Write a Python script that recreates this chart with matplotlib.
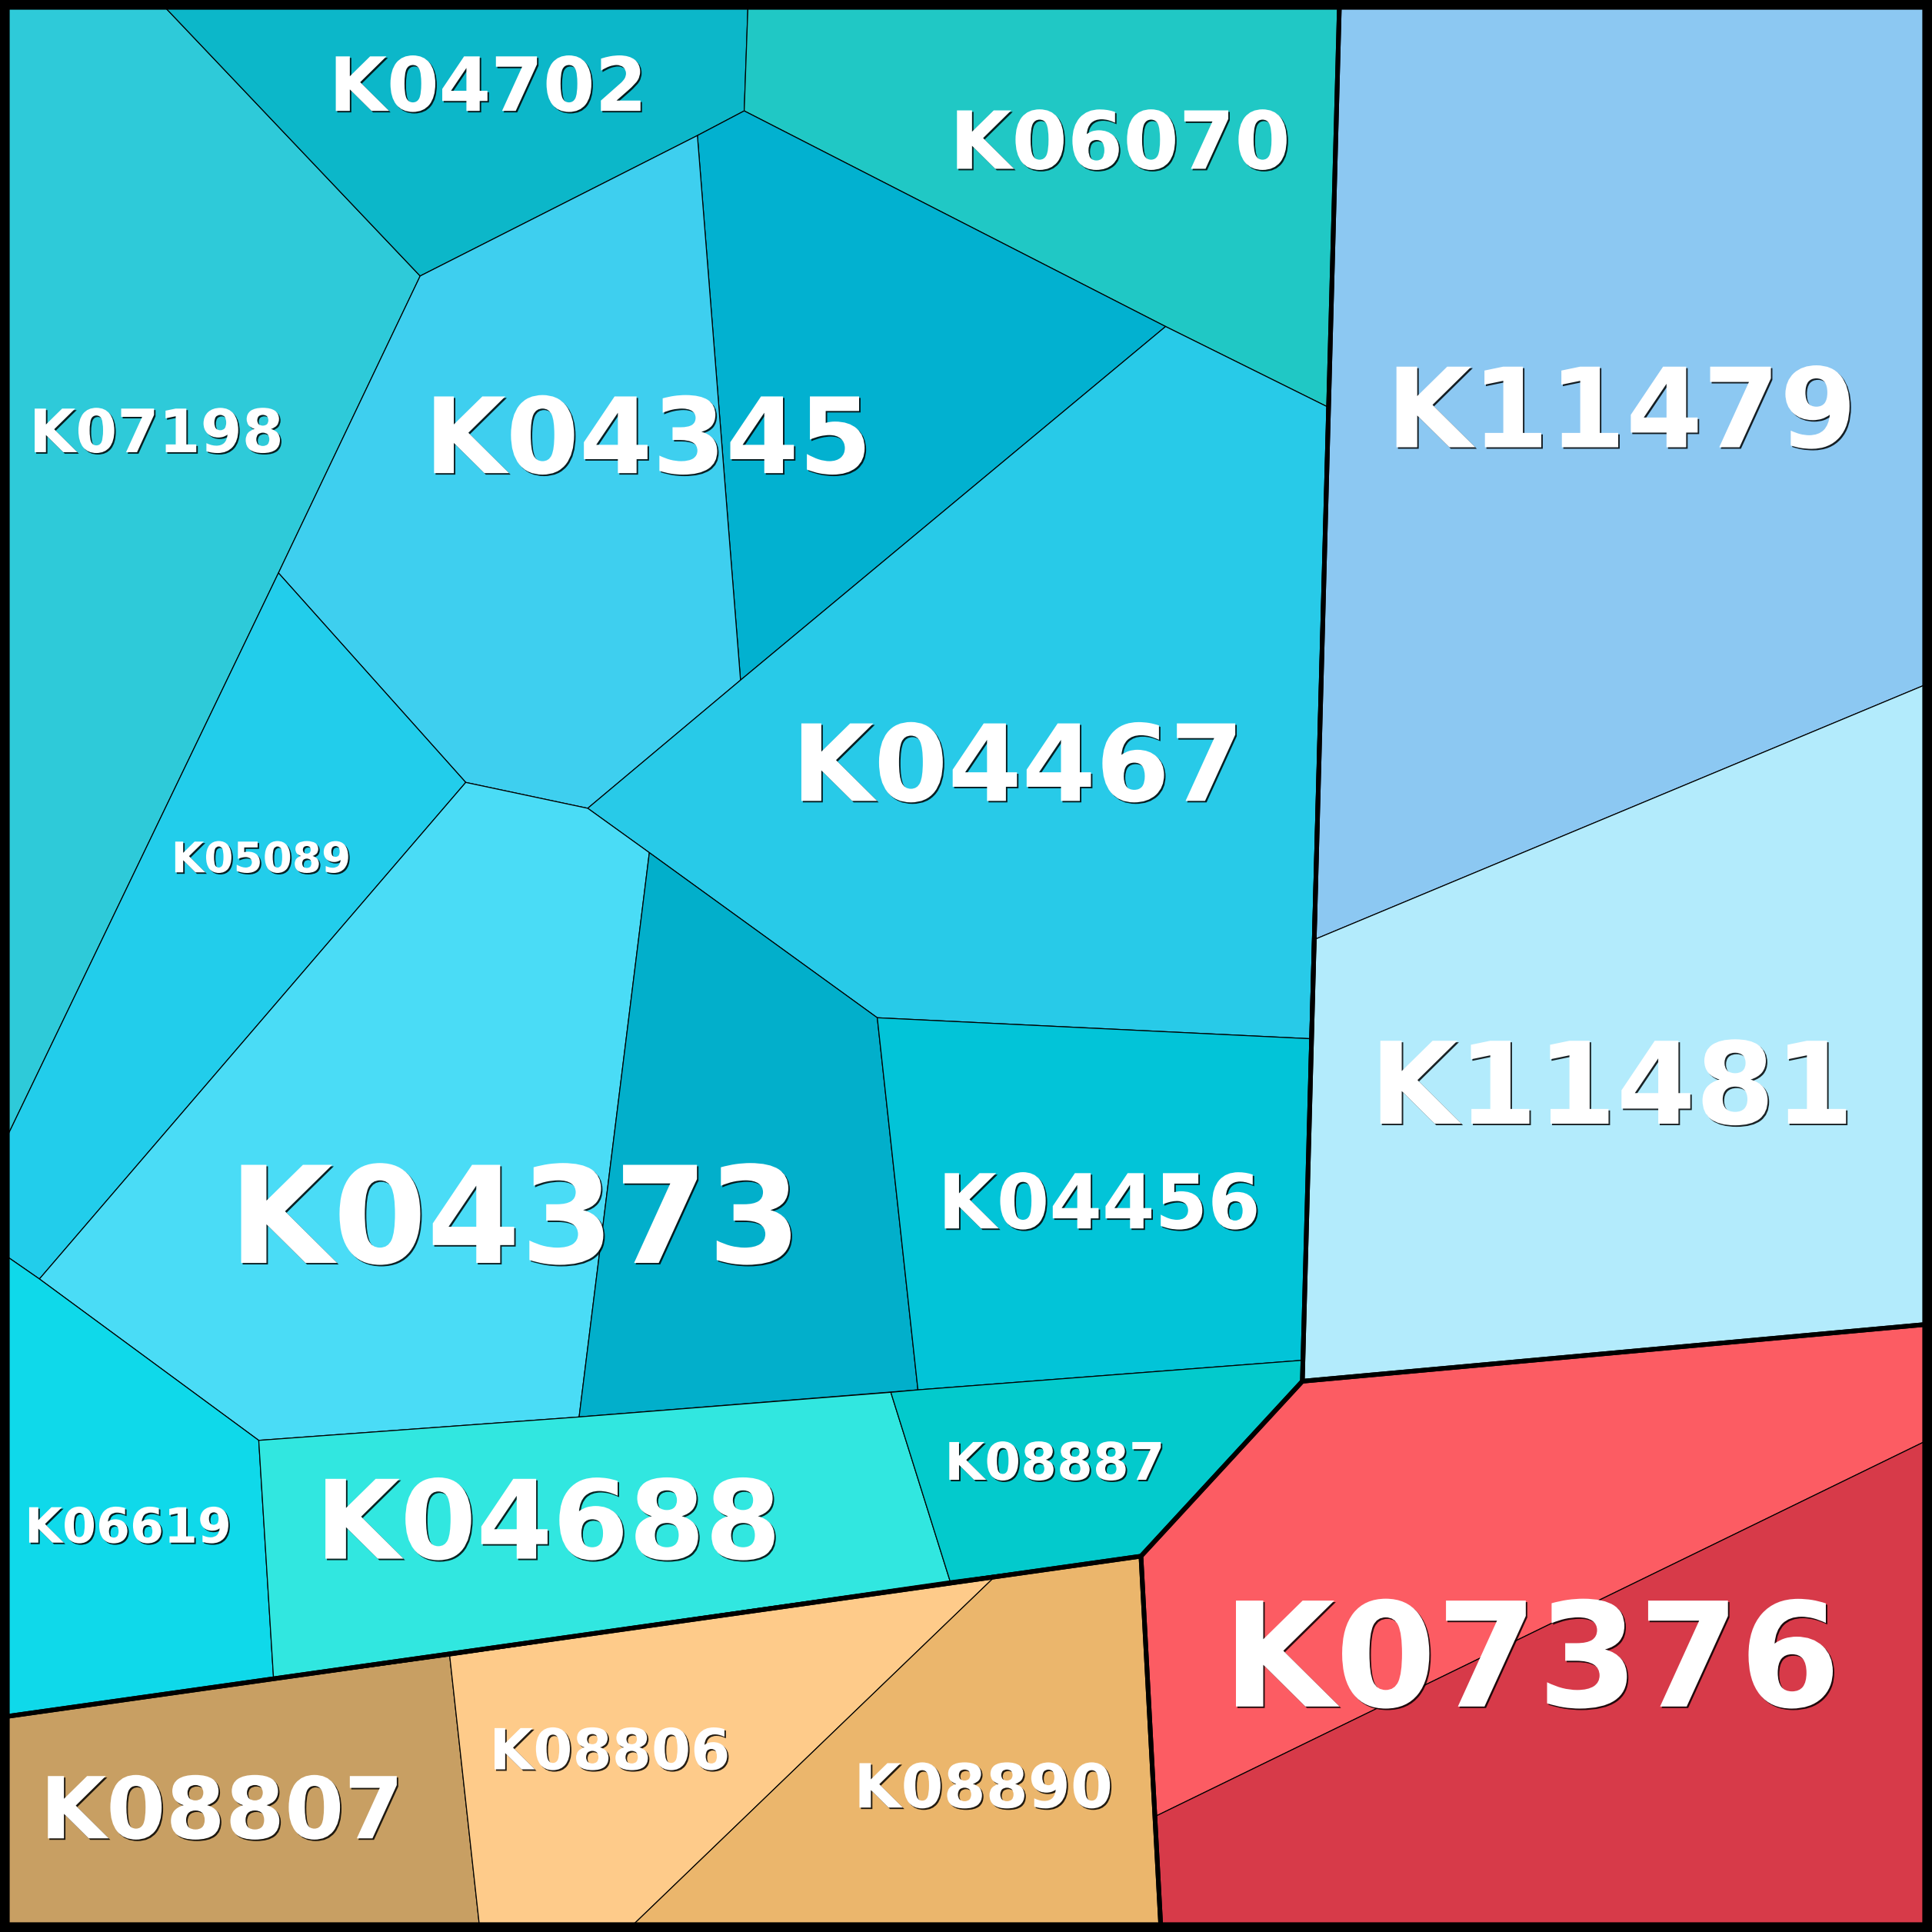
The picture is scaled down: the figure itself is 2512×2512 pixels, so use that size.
import matplotlib.pyplot as plt
import matplotlib.patheffects as pe
from matplotlib.patches import Polygon, Rectangle

# cell outlines (pixel space of a 1568 wide view, y down)
k07198 = [(6, 6), (134, 6), (341, 224), (226, 465), (6, 922)]
k04702 = [(134, 6), (607, 6), (604, 90), (566, 110), (341, 224)]
k06070 = [(607, 6), (1087, 6), (1077, 330), (946, 265), (604, 90)]
cell_a = [(566, 110), (604, 90), (946, 265), (601, 552)]
k04345 = [(341, 224), (566, 110), (601, 552), (477, 656), (378, 635), (226, 465)]
k04467 = [(946, 265), (1077, 330), (1063, 843), (712, 826), (527, 692), (477, 656), (601, 552)]
k05089 = [(226, 465), (378, 635), (32, 1038), (6, 1020), (6, 922)]
k04373 = [(378, 635), (477, 656), (527, 692), (470, 1150), (210, 1169), (32, 1038)]
cell_b = [(527, 692), (712, 826), (745, 1128), (470, 1150)]
k04456 = [(712, 826), (1063, 843), (1057, 1104), (745, 1128)]
k06619 = [(6, 1020), (32, 1038), (210, 1169), (222, 1362), (6, 1393)]
k04688 = [(210, 1169), (470, 1150), (723, 1130), (771, 1283), (222, 1362)]
k08887 = [(723, 1130), (745, 1128), (1057, 1104), (1057, 1121), (926, 1263), (771, 1283)]
k11479 = [(1087, 6), (1562, 6), (1562, 556), (1068, 762)]
k11481 = [(1068, 762), (1562, 556), (1562, 1075), (1057, 1121)]
k07376 = [(1057, 1121), (1562, 1075), (1562, 1170), (938, 1474), (926, 1263)]
cell_c = [(938, 1474), (1562, 1170), (1562, 1562), (942, 1562)]
k08807 = [(6, 1393), (365, 1344), (389, 1562), (6, 1562)]
k08806 = [(365, 1344), (808, 1279), (514, 1562), (389, 1562)]
k08890 = [(808, 1279), (926, 1263), (942, 1562), (514, 1562)]

cells = [k07198, k04702, k06070, cell_a, k04345, k04467, k05089, k04373, cell_b,
         k04456, k06619, k04688, k08887, k11479, k11481, k07376, cell_c,
         k08807, k08806, k08890]
colors = ['#2ecad9', '#0cb7c9', '#20c8c5', '#02b1d0', '#3ecfef', '#28cae8',
          '#22cdeb', '#4adcf6', '#02afcb', '#02c4d8', '#0fd9ea', '#31e7e0',
          '#03cacc', '#8cc8f2', '#b3ebfc', '#fc5c63', '#d73a49',
          '#c89f63', '#fecb8a', '#ebb66c']

# top level groups
group_cyan = [(6, 6), (1087, 6), (1057, 1121), (926, 1263), (6, 1393)]
group_blue = [(1087, 6), (1562, 6), (1562, 1075), (1057, 1121)]
group_red = [(1057, 1121), (1562, 1075), (1562, 1562), (942, 1562), (926, 1263)]
group_tan = [(6, 1393), (926, 1263), (942, 1562), (6, 1562)]
groups = [group_cyan, group_blue, group_red, group_tan]

labels = ['K04702', 'K06070', 'K07198', 'K04345', 'K11479', 'K04467', 'K05089',
          'K11481', 'K04373', 'K04456', 'K08887', 'K06619', 'K04688', 'K07376',
          'K08806', 'K08807', 'K08890']
label_x = [396, 909, 127, 526, 1316, 826, 212, 1308, 418, 892, 856, 104, 445,
           1243, 495, 180, 798]
label_y = [90, 137, 367, 384, 363, 650, 708, 912, 1025, 997, 1201, 1252, 1265,
           1385, 1436, 1492, 1467]
label_size = [70, 75, 56, 98.5, 103.5, 99.5, 39.5, 106.5, 126, 71, 48.5, 45.5, 102.5,
              136, 53, 80, 57]

fig = plt.figure(figsize=(25.12, 25.12), dpi=100)
ax = fig.add_axes([0, 0, 1, 1])
ax.set_xlim(0, 1568)
ax.set_ylim(1568, 0)
ax.axis('off')

for pts, c in zip(cells, colors):
    ax.add_patch(Polygon(pts, closed=True, facecolor=c, edgecolor='black', linewidth=0.9))

for pts in groups:
    ax.add_patch(Polygon(pts, closed=True, fill=False, edgecolor='black',
                         linewidth=4.3, joinstyle='miter'))

ax.add_patch(Rectangle((3, 3), 1562, 1562, fill=False, edgecolor='black', linewidth=7.5))

shadow = [pe.withSimplePatchShadow(offset=(1.4, -1.4), shadow_rgbFace='black', alpha=0.85)]
for t, x, y, s in zip(labels, label_x, label_y, label_size):
    ax.text(x, y, t, ha='center', va='baseline', fontsize=s, fontweight='bold',
            color='white', family='DejaVu Sans', path_effects=shadow)

fig.savefig('out.png', dpi=100)
